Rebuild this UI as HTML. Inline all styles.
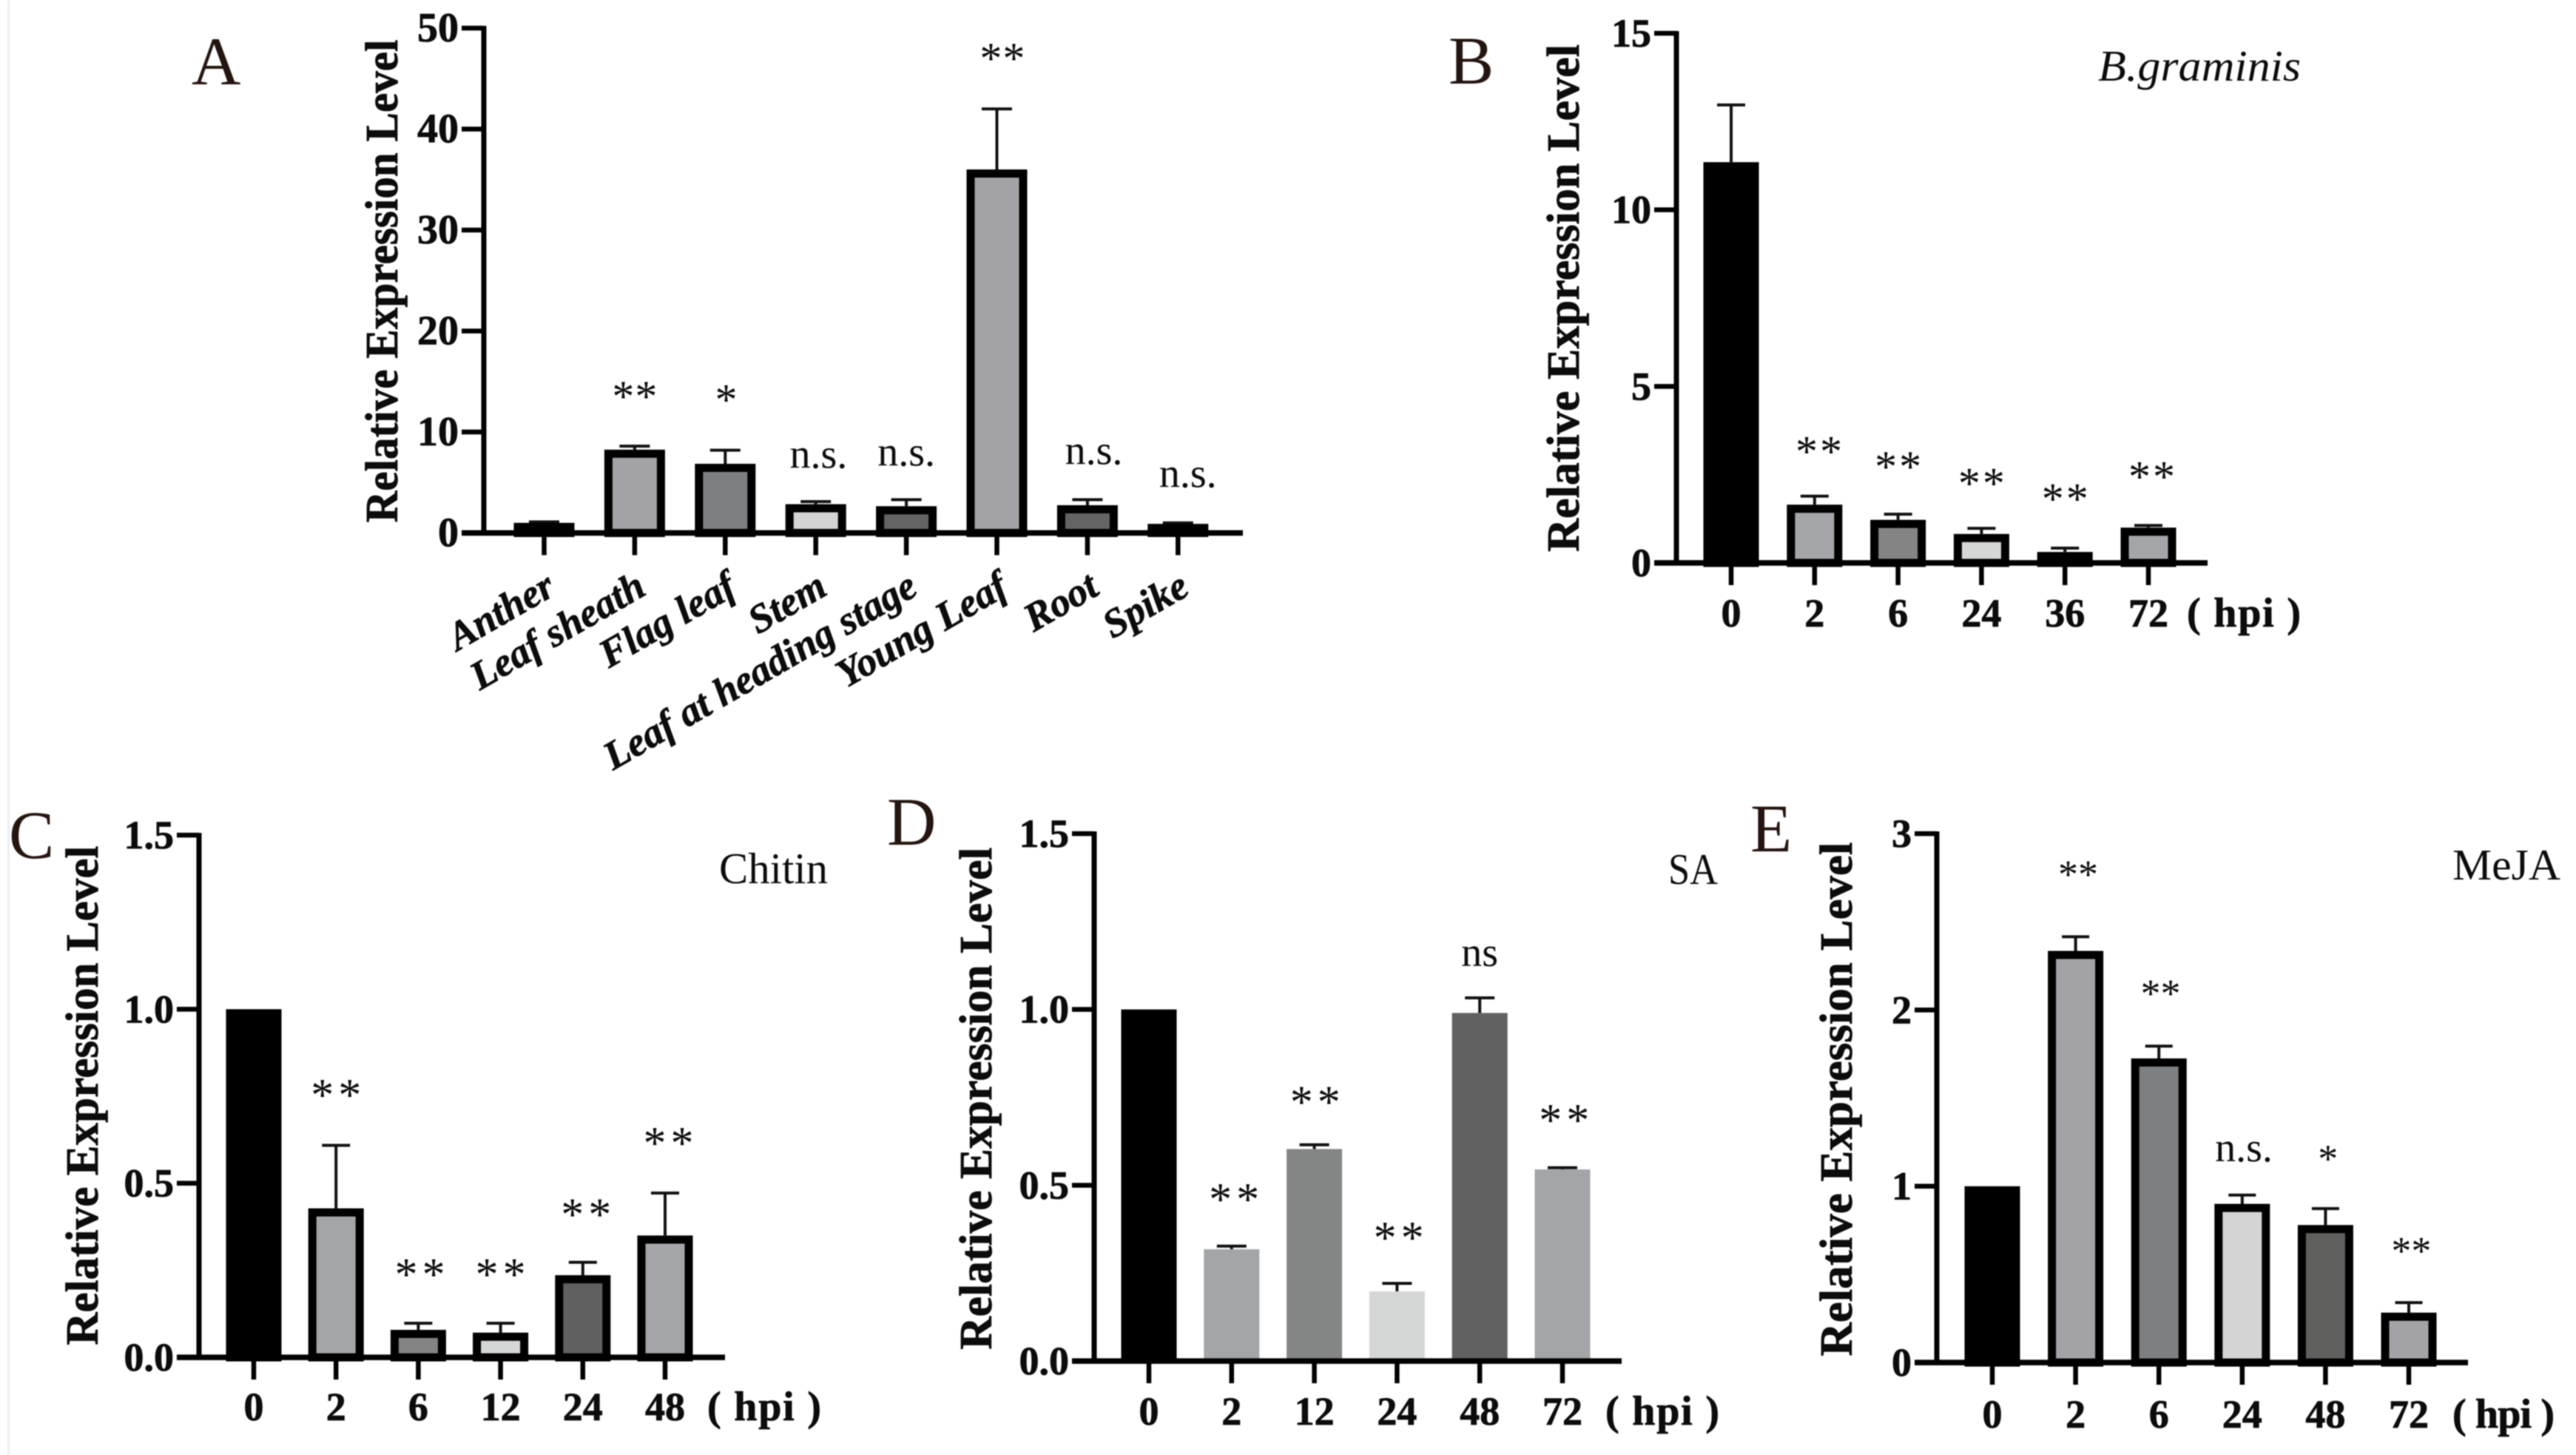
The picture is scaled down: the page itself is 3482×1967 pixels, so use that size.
<!DOCTYPE html>
<html lang="en">
<head>
<meta charset="utf-8">
<title>Relative expression level panels</title>
<style>
html,body{margin:0;padding:0;background:#fff;width:3482px;height:1967px;overflow:hidden}
svg{display:block;filter:blur(.8px)}
text{font-family:"Liberation Serif",serif;fill:#0c0c0c}
text[font-weight="bold"]{stroke:#0c0c0c;stroke-width:.8px}
</style>
</head>
<body>
<svg id="figure" xmlns="http://www.w3.org/2000/svg" width="3482" height="1967" viewBox="0 0 3482 1967">
<rect width="3482" height="1967" fill="#fff"/>
<rect x="10" y="0" width="3" height="1967" fill="#eeeeee"/>
</svg>
<script>
// Panel A
const aCategories = ["Anther","Leaf sheath","Flag leaf","Stem","Leaf at heading stage","Young Leaf","Root","Spike"];
const aValues = [1, 8.25, 6.85, 2.85, 2.65, 36, 2.75, 0.9];
const aErrorTops = [1.1, 8.6, 8.2, 3.1, 3.3, 42, 3.3, 1.0];
const aTickValues = [0, 10, 20, 30, 40, 50];
const aTickLabels = ["0", "10", "20", "30", "40", "50"];
const aSigLabels = ["**", "*", "n.s.", "n.s.", "**", "n.s.", "n.s."];
const aSigSlots = [1, 2.01, 3.03, 4, 5.06, 6.07, 7.11];
const aSigLevels = [14.1, 13.8, 6.45, 6.65, 47.6, 6.8, 4.55];

// Panel B
const bCategories = ["0", "2", "6", "24", "36", "72"];
const bValues = [11.35, 1.65, 1.22, 0.82, 0.31, 1.0];
const bErrorTops = [12.97, 1.89, 1.38, 0.98, 0.42, 1.06];
const bTickValues = [0, 5, 10, 15];
const bTickLabels = ["0", "5", "10", "15"];
const bSigLabels = ["**", "**", "**", "**", "**"];
const bSigSlots = [1.05, 2, 3, 4, 5.04];
const bSigLevels = [3.32, 2.9, 2.42, 1.98, 2.61];

// Panel C
const cCategories = ["0", "2", "6", "12", "24", "48"];
const cValues = [1, 0.428, 0.079, 0.071, 0.236, 0.35];
const cErrorTops = [1, 0.609, 0.098, 0.098, 0.273, 0.472];
const cTickValues = [0, 0.5, 1, 1.5];
const cTickLabels = ["0.0", "0.5", "1.0", "1.5"];
const cSigLabels = ["**", "**", "**", "**", "**"];
const cSigSlots = [1, 2.02, 3, 4.04, 5.04];
const cSigLevels = [0.772, 0.256, 0.256, 0.428, 0.633];

// Panel D
const dCategories = ["0", "2", "12", "24", "48", "72"];
const dValues = [1, 0.318, 0.603, 0.198, 0.99, 0.545];
const dErrorTops = [1, 0.327, 0.615, 0.221, 1.033, 0.55];
const dTickValues = [0, 0.5, 1, 1.5];
const dTickLabels = ["0.0", "0.5", "1.0", "1.5"];
const dSigLabels = ["**", "**", "**", "ns", "**"];
const dSigSlots = [1.03, 2.01, 3.02, 4, 5.02];
const dSigLevels = [0.478, 0.755, 0.368, 1.123, 0.703];

// Panel E
const eCategories = ["0", "2", "6", "24", "48", "72"];
const eValues = [1, 2.335, 1.725, 0.9, 0.78, 0.283];
const eErrorTops = [1, 2.415, 1.795, 0.95, 0.873, 0.34];
const eTickValues = [0, 1, 2, 3];
const eTickLabels = ["0", "1", "2", "3"];
const eSigLabels = ["**", "**", "n.s.", "*", "**"];
const eSigSlots = [1.03, 2.02, 3.02, 4.03, 5.03];
const eSigLevels = [2.8, 2.125, 1.141, 1.187, 0.665];

const SVG_NS = "http://www.w3.org/2000/svg";
const figure = document.getElementById("figure");

function make(tag, attrs, parent, content) {
  const node = document.createElementNS(SVG_NS, tag);
  for (const key in attrs) node.setAttribute(key, attrs[key]);
  if (content !== undefined) node.textContent = content;
  parent.appendChild(node);
  return node;
}

function drawPanel(p) {
  const group = make("g", {}, figure);
  
  

  const yScale = v => p.y0 - v * (p.y0 - p.yTop) / p.yMax;
  const xScale = i => p.x0 + i * p.step;

  // panel letter
  const letter = make("text", {x: p.letterX, y: p.letterY, "font-size": 92, style: "fill:#241510"}, group, p.id);
  
  

  // y-axis title
  const yTitle = make("text", {
    transform: "translate(" + p.titleX + "," + p.titleMid + ") rotate(-90)",
    "text-anchor": "middle", "font-size": 62, "font-weight": "bold",
    textLength: p.titleLen, lengthAdjust: "spacingAndGlyphs"
  }, group, "Relative Expression Level");
  
  

  // bars and error bars
  p.values.forEach((v, i) => {
    const cx = xScale(i), top = yScale(v), bottom = p.y0;
    const errTop = yScale(p.errors[i]);
    if (p.errors[i] > v) {
      const stem = make("line", {x1: cx, x2: cx, y1: errTop, y2: top, stroke: "#111", "stroke-width": 4}, group);
      
      
      const cap = make("line", {x1: cx - p.capW / 2, x2: cx + p.capW / 2, y1: errTop, y2: errTop, stroke: "#111", "stroke-width": 4}, group);
      
      
    }
    const sw = p.barStroke;
    const bar = make("rect", {
      x: cx - p.barW / 2 + sw / 2, y: top + sw / 2,
      width: p.barW - sw, height: Math.max(0, bottom - top - sw / 2),
      fill: p.fills[i], stroke: sw ? "#000" : "none", "stroke-width": sw
    }, group);
    
    
  });

  // axes
  const yAxis = make("line", {x1: p.axisX, x2: p.axisX, y1: p.yTop - 3, y2: p.y0 + 3, stroke: "#000", "stroke-width": 7}, group);
  
  
  const xAxis = make("line", {x1: p.axisX - 30, x2: p.xEnd, y1: p.y0, y2: p.y0, stroke: "#000", "stroke-width": 7.5}, group);
  
  

  // y ticks
  p.tickValues.forEach((t, i) => {
    const y = yScale(t);
    const tick = make("line", {x1: p.axisX - 30, x2: p.axisX, y1: y, y2: y, stroke: "#000", "stroke-width": 6.5}, group);
    
    
    const label = make("text", {x: p.axisX - 34, y: y + 18, "text-anchor": "end", "font-size": p.tickFont, "font-weight": "bold"}, group, p.tickLabels[i]);
    
    
  });

  // x ticks and labels
  p.categories.forEach((c, i) => {
    const x = xScale(i);
    const tick = make("line", {x1: x, x2: x, y1: p.y0, y2: p.y0 + 30, stroke: "#000", "stroke-width": 6.5}, group);
    
    
    if (p.rotated) {
      const label = make("text", {
        transform: "translate(" + (x + 18) + "," + (p.y0 + 82) + ") rotate(-30)",
        "text-anchor": "end", "font-size": 54, "font-weight": "bold", "font-style": "italic"
      }, group, c);
      
      
    } else {
      const label = make("text", {x: x, y: p.labelY, "text-anchor": "middle", "font-size": 54, "font-weight": "bold"}, group, c);
      
      
    }
  });

  // unit label
  if (p.unitX) {
    const unit = make("text", {
      x: p.unitX, y: p.labelY, "font-size": 56, "font-weight": "bold",
      textLength: p.unitLen, lengthAdjust: "spacing"
    }, group, "( hpi )");
    
    
  }

  // treatment title
  if (p.caption) {
    const caption = make("text", {
      x: p.captionX, y: p.captionY, "font-size": 59, "font-style": p.captionItalic ? "italic" : "normal",
      textLength: p.captionLen, lengthAdjust: "spacingAndGlyphs"
    }, group, p.caption);
    
    
  }

  // significance marks
  p.sigLabels.forEach((s, i) => {
    const x = xScale(p.sigSlots[i]);
    const isStar = s.indexOf("*") >= 0;
    const level = yScale(p.sigLevels[i]);
    const size = isStar ? p.starFont : 56;
    const y = isStar ? level + size * 0.47 : level;
    const spacing = isStar ? p.starGap : 0;
    const mark = make("text", {
      x: x + spacing / 2, y: y, "text-anchor": "middle", "font-size": size,
      "letter-spacing": spacing
    }, group, s);
    
    
  });
}

drawPanel({
  id: "A", categories: aCategories, values: aValues, errors: aErrorTops,
  tickValues: aTickValues, tickLabels: aTickLabels,
  sigLabels: aSigLabels, sigSlots: aSigSlots, sigLevels: aSigLevels,
  fills: ["#111", "#a3a3a7", "#7d8083", "#d4d4d4", "#646464", "#a3a3a7", "#646464", "#222"],
  x0: 735.5, step: 122.4, barW: 82, barStroke: 11, capW: 41,
  axisX: 654, xEnd: 1680, y0: 720.5, yTop: 38, yMax: 50, tickFont: 56,
  titleX: 537, titleMid: 380, titleLen: 653,
  letterX: 259, letterY: 114, rotated: true, starFont: 60, starGap: 1
});
drawPanel({
  id: "B", categories: bCategories, values: bValues, errors: bErrorTops,
  tickValues: bTickValues, tickLabels: bTickLabels,
  sigLabels: bSigLabels, sigSlots: bSigSlots, sigLevels: bSigLevels,
  fills: ["#000", "#a3a5a8", "#848484", "#d5d7d6", "#555", "#a3a5a8"],
  x0: 2340, step: 112.8, barW: 75, barStroke: 11, capW: 38,
  axisX: 2266, xEnd: 2984, y0: 761, yTop: 45, yMax: 15, tickFont: 54,
  titleX: 2134, titleMid: 403, titleLen: 686,
  letterX: 1958, letterY: 113, labelY: 847, unitX: 2956, unitLen: 154,
  caption: "B.graminis", captionX: 2836, captionY: 109, captionLen: 274, captionItalic: true,
  starFont: 60, starGap: 3
});
drawPanel({
  id: "C", categories: cCategories, values: cValues, errors: cErrorTops,
  tickValues: cTickValues, tickLabels: cTickLabels,
  sigLabels: cSigLabels, sigSlots: cSigSlots, sigLevels: cSigLevels,
  fills: ["#000", "#a3a5a8", "#848484", "#d5d7d6", "#606060", "#a3a5a8"],
  x0: 343, step: 111.2, barW: 75, barStroke: 11, capW: 38,
  axisX: 269, xEnd: 980, y0: 1835, yTop: 1129, yMax: 1.5, tickFont: 54,
  titleX: 132, titleMid: 1481, titleLen: 675,
  letterX: 12, letterY: 1160, labelY: 1920, unitX: 956, unitLen: 154,
  caption: "Chitin", captionX: 972, captionY: 1194, captionLen: 147,
  starFont: 62, starGap: 6
});
drawPanel({
  id: "D", categories: dCategories, values: dValues, errors: dErrorTops,
  tickValues: dTickValues, tickLabels: dTickLabels,
  sigLabels: dSigLabels, sigSlots: dSigSlots, sigLevels: dSigLevels,
  fills: ["#000", "#a3a5a8", "#848585", "#d5d7d6", "#616161", "#a3a5a8"],
  x0: 1553, step: 111.8, barW: 75, barStroke: 0, capW: 40,
  axisX: 1479, xEnd: 2192, y0: 1840, yTop: 1127, yMax: 1.5, tickFont: 54,
  titleX: 1340, titleMid: 1485, titleLen: 679,
  letterX: 1199, letterY: 1142, labelY: 1926, unitX: 2170, unitLen: 154,
  caption: "SA", captionX: 2255, captionY: 1195, captionLen: 67,
  starFont: 62, starGap: 6
});
drawPanel({
  id: "E", categories: eCategories, values: eValues, errors: eErrorTops,
  tickValues: eTickValues, tickLabels: eTickLabels,
  sigLabels: eSigLabels, sigSlots: eSigSlots, sigLevels: eSigLevels,
  fills: ["#000", "#a3a3a7", "#7d8083", "#d4d4d4", "#5f605e", "#a3a3a7"],
  x0: 2693, step: 112.6, barW: 75, barStroke: 11, capW: 37,
  axisX: 2618, xEnd: 3336, y0: 1842, yTop: 1127, yMax: 3, tickFont: 54,
  titleX: 2503, titleMid: 1486, titleLen: 695,
  letterX: 2366, letterY: 1151, labelY: 1930, unitX: 3315, unitLen: 138,
  caption: "MeJA", captionX: 3315, captionY: 1189, captionLen: 146,
  starFont: 54, starGap: 0
});
</script>
</body>
</html>
